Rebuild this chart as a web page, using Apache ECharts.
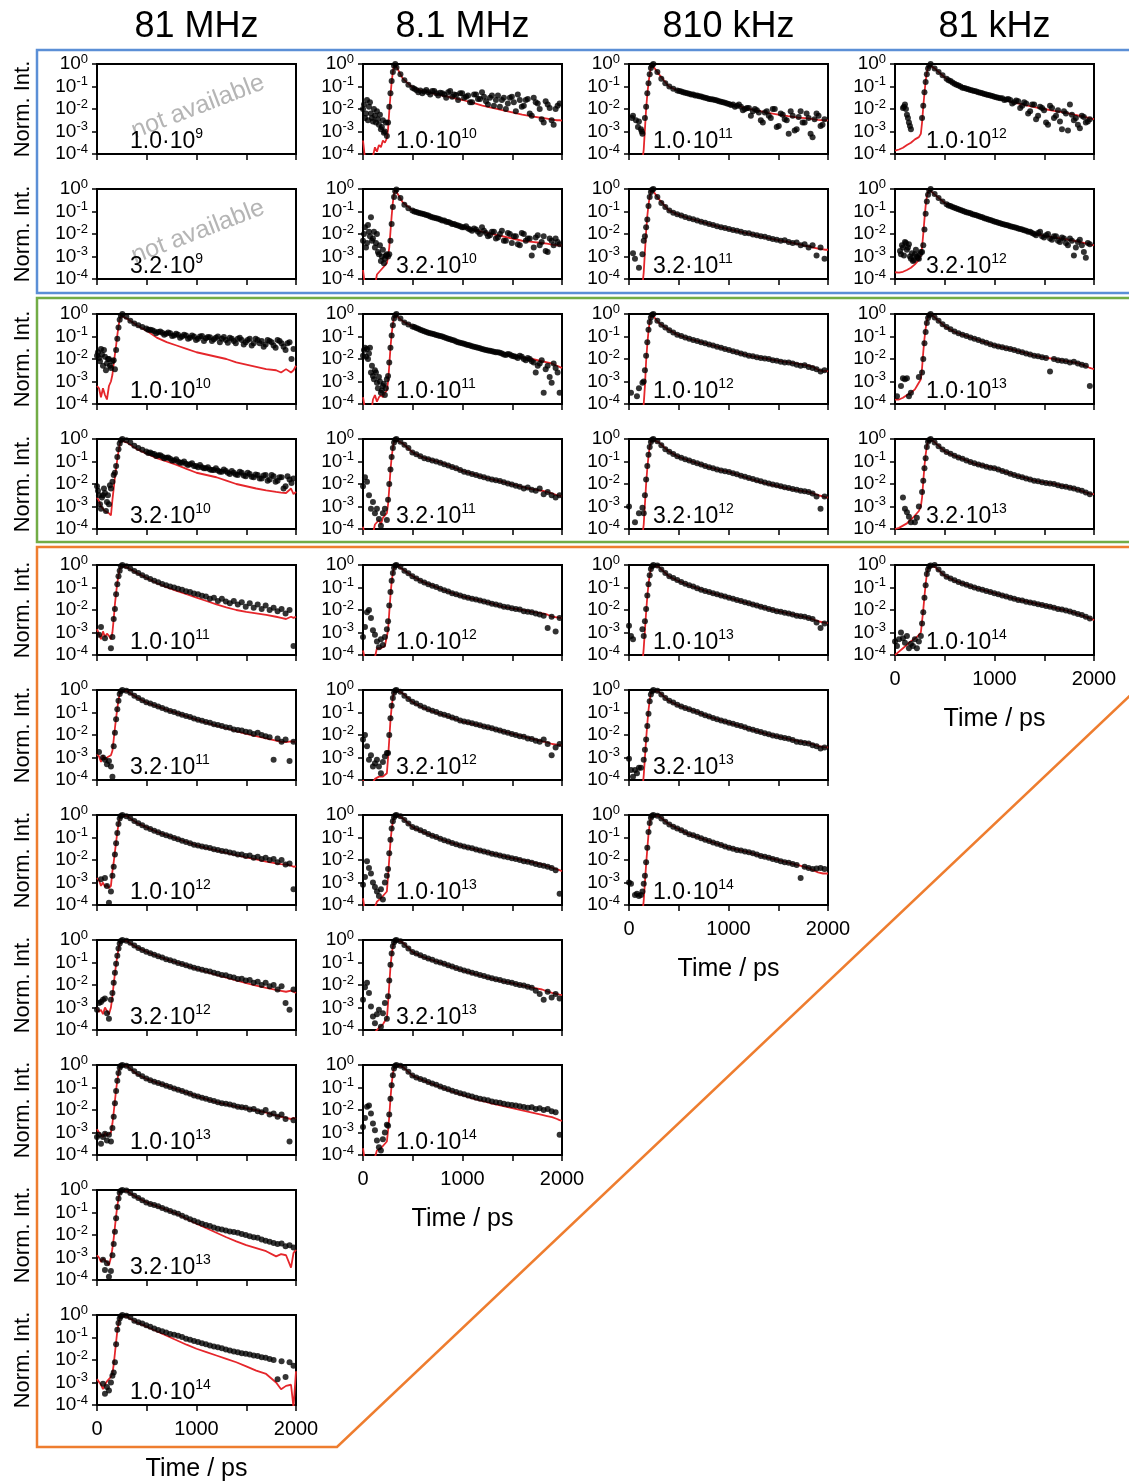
<!DOCTYPE html>
<html><head><meta charset="utf-8">
<script src="https://cdn.jsdelivr.net/npm/echarts/dist/echarts.min.js"></script>
<style>html,body{margin:0;padding:0;background:#fff}#c{width:1129px;height:1484px}</style>
</head><body><div id="c"></div><script>
// ---------- column titles & tick labels ----------
const COLUMN_TITLES = ['81 MHz', '8.1 MHz', '810 kHz', '81 kHz'];
const X_TICK_LABELS = [0, 1000, 2000];

// ---------- time bins (ps) of the measured points, per column ----------
const T_C1 = [0,20,40,60,80,100,120,140, 155,168,180,192,204,216,228,240,
 255,295,335,375,415,455,495,535,575,615, 655,695,735,775,815,855,895,935,975,1015,
 1055,1095,1135,1175,1215,1255,1295,1335,1375,1415, 1455,1495,1535,1575,1615,1655,1695,1735,1775,1815,
 1855,1895,1935,1975];
const T_C2 = [0,20,40,60,80,100,120,140,160,180,200,220,240, 252,264,276,288,300,312,324,
 336,376,416,456,496,536,576,616,656,696, 736,776,816,856,896,936,976,1016,1056,1096,
 1136,1176,1216,1256,1296,1336,1376,1416,1456,1496, 1536,1576,1616,1656,1696,1736,1776,1816,1856,1896,
 1936,1976];
const T_C3 = [0,20,40,60,80,100,120,135, 148,160,172,184,196,208,220,232,
 245,285,325,365,405,445,485,525,565,605, 645,685,725,765,805,845,885,925,965,1005,
 1045,1085,1125,1165,1205,1245,1285,1325,1365,1405, 1445,1485,1525,1565,1605,1645,1685,1725,1765,1805,
 1845,1885,1925,1965];
const T_C4 = [0,20,40,60,80,100,120,140,160,180,200,220,240,260, 272,284,296,308,320,332,344,
 358,398,438,478,518,558,598,638,678,718, 758,798,838,878,918,958,998,1038,1078,1118,
 1158,1198,1238,1278,1318,1358,1398,1438,1478,1518, 1558,1598,1638,1678,1718,1758,1798,1838,1878,1918,
 1958];
// in-between bins (ps), used only by the noisiest panels
const XT_C1 = [10,30,50,70,90,110,130,
 515,555,595,635,675,715,755,795,835,875, 915,955,995,1035,1075,1115,1155,1195,1235,1275,
 1315,1355,1395,1435,1475,1515,1555,1595,1635,1675, 1715,1755,1795,1835,1875,1915,1955];
const XT_C2 = [10,30,50,70,90,110,130,150,170,190,210,230,
 516,556,596,636,676,716,756,796,836,876, 916,956,996,1036,1076,1116,1156,1196,1236,1276,
 1316,1356,1396,1436,1476,1516,1556,1596,1636,1676, 1716,1756,1796,1836,1876,1916,1956];
const XT_C3 = [10,30,50,70,90,110,128,
 505,545,585,625,665,705,745,785,825,865, 905,945,985,1025,1065,1105,1145,1185,1225,1265,
 1305,1345,1385,1425,1465,1505,1545,1585,1625,1665, 1705,1745,1785,1825,1865,1905,1945];
const XT_C4 = [10,30,50,70,90,110,130,150,170,190,210,230,250,
 538,578,618,658,698,738,778,818,858,898, 938,978,1018,1058,1098,1138,1178,1218,1258,1298,
 1338,1378,1418,1458,1498,1538,1578,1618,1658,1698, 1738,1778,1818,1858,1898,1938];
// ---------- time points of the fit curves, per column ----------
const FT_C1 = [0,20,40,60,80,100,120,140, 155,168,180,192,204,216,228,240, 255,
 300,400,500,600,700,800,900,1000,1100,1200,1300,1400,1500,1600,1700,1800, 1850,1900,1950,1975,2000];
const FT_C2 = [0,20,40,60,80,100,120,140,160,180,200,220,240, 252,264,276,288,300,312,324, 336,
 400,500,600,700,800,900,1000,1100,1200,1300,1400,1500,1600,1700,1800, 1850,1900,1950,1975,2000];
const FT_C3 = [0,20,40,60,80,100,120,135, 148,160,172,184,196,208,220,232, 245,
 300,400,500,600,700,800,900,1000,1100,1200,1300,1400,1500,1600,1700,1800, 1850,1900,1950,1975,2000];
const FT_C4 = [0,20,40,60,80,100,120,140,160,180,200,220,240,260, 272,284,296,308,320,332,344, 358,
 400,500,600,700,800,900,1000,1100,1200,1300,1400,1500,1600,1700,1800, 1850,1900,1950,1975,2000];

// ---------- values: log10 of normalised intensity ----------
// column 1 (81 MHz)
const D_R3C1 = [-1.85,-1.95,-1.55,-2.3,-1.9,-2.2,-2.0,-2.4, -2.1,-2.05,-2.45,-1.6,-1.1,-0.6,-0.25,-0.08,
 0,-0.12,-0.3,-0.42,-0.5,-0.58,-0.64,-0.7,-0.77,-0.8, -0.83,-0.88,-0.85,-0.95,-0.92,-1.0,-0.95,-1.05,-1.0,-1.1,
 -0.98,-1.08,-1.03,-1.12,-1.0,-1.1,-1.15,-1.05,-1.2,-1.1, -1.15,-1.25,-1.1,-1.3,-1.15,-1.2,-1.35,-1.2,-1.4,-1.15,
 -1.3,-1.6,-1.25,-1.55];
const X_R3C1 = [-1.7,-2.1,-1.8,-1.6,-2.5,-2.0,-2.3,
 -0.7,-0.72,-0.85,-0.78,-0.92,-0.82,-0.98,-0.88,-1.05,-0.92, -1.1,-0.95,-1.15,-1.0,-1.2,-1.02,-1.2,-1.05,-1.25,-1.02,
 -1.28,-1.1,-1.3,-1.05,-1.35,-1.15,-1.4,-1.1,-1.3,-1.45, -1.15,-1.25,-1.5,-1.2,-1.45,-1.3,-2.0];
const F_R3C1 = [-3.2,-3.3,-3.7,-3.3,-3.6,-3.8,-3.2,-3.0, -2.7,-2.2,-1.8,-1.4,-0.95,-0.55,-0.25,-0.07, 0,
 -0.2,-0.5,-0.75,-1.05,-1.25,-1.4,-1.55,-1.7,-1.8,-1.9,-2.0,-2.15,-2.25,-2.35,-2.45,-2.5, -2.6,-2.45,-2.6,-2.5,-2.3];
const D_R4C1 = [-2.1,-2.5,-3.1,-2.5,-2.4,-2.8,-2.9,-2.2, -1.9,-1.6,-1.5,-1.2,-0.8,-0.45,-0.2,-0.05,
 0,-0.05,-0.15,-0.3,-0.4,-0.48,-0.55,-0.6,-0.67,-0.72, -0.78,-0.83,-0.88,-0.95,-1.0,-1.05,-1.1,-1.12,-1.2,-1.25,
 -1.25,-1.3,-1.35,-1.38,-1.4,-1.45,-1.42,-1.55,-1.5,-1.6, -1.5,-1.65,-1.55,-1.7,-1.6,-1.75,-1.6,-1.8,-1.65,-1.85,
 -1.7,-2.1,-1.8,-1.75];
const X_R4C1 = [-2.3,-2.9,-2.6,-2.2,-3.2,-2.5,-2.05,
 -0.62,-0.66,-0.75,-0.72,-0.85,-0.82,-0.95,-0.9,-1.05,-1.0, -1.15,-1.08,-1.2,-1.15,-1.3,-1.25,-1.38,-1.3,-1.45,-1.35,
 -1.5,-1.42,-1.58,-1.45,-1.62,-1.5,-1.68,-1.58,-1.75,-1.62, -1.85,-1.6,-1.9,-1.7,-2.2,-1.65,-1.95];
const F_R4C1 = [-2.6,-2.75,-3.0,-3.1,-3.2,-3.2,-3.3,-3.4, -2.7,-2.2,-1.7,-1.3,-0.9,-0.55,-0.25,-0.07, 0,
 -0.15,-0.45,-0.65,-0.85,-1.0,-1.15,-1.33,-1.5,-1.6,-1.7,-1.85,-2.0,-2.1,-2.2,-2.28,-2.35, -2.38,-2.4,-2.2,-2.45,-2.35];
const D_R5C1 = [null,-3.1,-2.75,null,-3.25,null,null,-3.7, -3.2,-2.4,-1.95,-1.3,-0.85,-0.5,-0.25,-0.05,
 0,-0.05,-0.15,-0.27,-0.36,-0.45,-0.54,-0.62,-0.7,-0.77, -0.84,-0.9,-0.95,-1.0,-1.06,-1.1,-1.17,-1.2,-1.27,-1.3,
 -1.37,-1.4,-1.5,-1.45,-1.6,-1.5,-1.62,-1.7,-1.6,-1.75, -1.65,-1.85,-1.7,-1.9,-1.75,-1.95,-1.8,-2.0,-1.9,-2.05,
 -1.95,-2.15,-2.0,-3.6];
const F_R5C1 = [-2.85,-2.9,-3.3,-2.95,-3.2,-3.05,-3.15,-3.3, -3.0,-2.4,-1.75,-1.25,-0.8,-0.45,-0.2,-0.05, 0,
 -0.1,-0.35,-0.58,-0.8,-0.98,-1.15,-1.3,-1.45,-1.6,-1.75,-1.88,-2.0,-2.08,-2.15,-2.22,-2.3, -2.35,-2.4,-2.3,-2.35,-2.3];
const D_R6C1 = [null,-2.75,null,-3.0,-3.1,-3.3,-3.15,-3.4, -3.85,-2.5,-1.9,-1.3,-0.85,-0.48,-0.18,-0.05,
 0,-0.03,-0.12,-0.25,-0.36,-0.45,-0.54,-0.6,-0.67,-0.73, -0.8,-0.87,-0.93,-0.98,-1.04,-1.1,-1.15,-1.2,-1.27,-1.32,
 -1.37,-1.42,-1.45,-1.52,-1.55,-1.6,-1.65,-1.68,-1.75,-1.78, -1.8,-1.85,-1.88,-1.95,-1.9,-2.0,-2.05,-2.1,-3.1,-2.15,
 -2.3,-2.2,-3.15,-2.3];
const F_R6C1 = [-2.85,-2.95,-3.2,-2.9,-3.1,-3.0,-3.05,-2.9, -2.7,-2.2,-1.7,-1.25,-0.82,-0.45,-0.18,-0.04, 0,
 -0.05,-0.33,-0.56,-0.72,-0.88,-1.02,-1.17,-1.32,-1.45,-1.58,-1.7,-1.83,-1.95,-2.05,-2.15,-2.25, -2.3,-2.32,-2.28,-2.3,-2.3];
const D_R7C1 = [null,null,-2.85,null,-2.8,-3.15,-3.9,-3.4, -2.7,-2.3,-1.75,-1.25,-0.8,-0.4,-0.15,-0.04,
 0,-0.05,-0.14,-0.27,-0.37,-0.46,-0.55,-0.62,-0.7,-0.77, -0.84,-0.9,-0.96,-1.02,-1.08,-1.14,-1.2,-1.26,-1.32,-1.36,
 -1.4,-1.43,-1.47,-1.52,-1.55,-1.6,-1.62,-1.67,-1.7,-1.75, -1.75,-1.82,-1.8,-1.9,-1.85,-1.95,-1.9,-2.0,-1.95,-2.1,
 -2.0,-2.2,-2.15,-3.3];
const F_R7C1 = [-2.8,-2.9,-3.15,-3.0,-3.2,-3.1,-3.25,-3.15, -2.5,-2.1,-1.65,-1.2,-0.78,-0.4,-0.15,-0.04, 0,
 -0.05,-0.35,-0.55,-0.75,-0.9,-1.05,-1.2,-1.35,-1.47,-1.57,-1.68,-1.78,-1.88,-1.97,-2.07,-2.15, -2.18,-2.2,-2.25,-2.3,-2.28];
const D_R8C1 = [-3.1,-2.8,-2.75,-2.65,-2.6,-3.25,-3.5,-2.65, -2.35,-1.9,-1.45,-1.05,-0.7,-0.38,-0.15,-0.04,
 0,-0.03,-0.12,-0.24,-0.35,-0.44,-0.52,-0.59,-0.66,-0.72, -0.78,-0.85,-0.9,-0.96,-1.02,-1.07,-1.12,-1.18,-1.23,-1.28,
 -1.32,-1.37,-1.4,-1.46,-1.5,-1.55,-1.57,-1.63,-1.67,-1.73, -1.72,-1.8,-1.78,-1.9,-1.85,-2.0,-1.9,-2.05,-2.0,-2.2,
 -2.05,-2.8,-3.1,-2.2];
const F_R8C1 = [-3.0,-3.2,-3.1,-3.3,-3.0,-3.15,-3.3,-3.0, -2.5,-1.95,-1.5,-1.08,-0.72,-0.4,-0.15,-0.04, 0,
 -0.05,-0.33,-0.53,-0.7,-0.86,-1.0,-1.14,-1.28,-1.42,-1.55,-1.67,-1.8,-1.92,-2.03,-2.13,-2.22, -2.26,-2.3,-2.25,-2.3,-2.35];
const D_R9C1 = [-3.2,-3.1,-3.5,-3.2,-3.05,-3.35,-3.1,-3.4, -2.8,-2.3,-1.7,-1.15,-0.7,-0.35,-0.12,-0.03,
 0,-0.03,-0.14,-0.28,-0.4,-0.5,-0.6,-0.68,-0.74,-0.8, -0.86,-0.92,-0.98,-1.04,-1.1,-1.16,-1.22,-1.28,-1.35,-1.4,
 -1.45,-1.5,-1.55,-1.6,-1.65,-1.7,-1.72,-1.76,-1.8,-1.85, -1.88,-1.9,-1.98,-1.95,-2.05,-2.1,-2.0,-2.2,-2.15,-2.3,
 -2.2,-2.4,-3.4,-2.45];
const F_R9C1 = [-2.85,-3.0,-2.95,-3.2,-3.0,-3.15,-3.1,-3.0, -2.6,-2.1,-1.6,-1.1,-0.7,-0.35,-0.12,-0.03, 0,
 -0.05,-0.4,-0.62,-0.78,-0.93,-1.08,-1.23,-1.38,-1.52,-1.65,-1.75,-1.85,-1.93,-2.02,-2.12,-2.25, -2.3,-2.35,-2.4,-2.35,-2.4];
const D_R10C1 = [null,null,null,-3.1,-3.55,-3.25,-3.85,-3.6, -2.9,-2.4,-1.85,-1.25,-0.75,-0.38,-0.12,-0.03,
 0,-0.02,-0.13,-0.25,-0.36,-0.46,-0.55,-0.62,-0.67,-0.72, -0.8,-0.87,-0.93,-1.0,-1.06,-1.14,-1.22,-1.3,-1.37,-1.43,
 -1.5,-1.56,-1.6,-1.67,-1.72,-1.76,-1.8,-1.84,-1.87,-1.9, -1.95,-2.0,-2.05,-2.1,-2.12,-2.2,-2.25,-2.3,-2.35,-2.4,
 -2.38,-2.5,-2.45,-2.55];
const F_R10C1 = [-2.9,-3.0,-3.2,-3.05,-3.1,-3.2,-3.35,-3.0, -2.6,-2.15,-1.65,-1.15,-0.72,-0.37,-0.12,-0.03, 0,
 -0.05,-0.33,-0.55,-0.72,-0.88,-1.05,-1.28,-1.5,-1.7,-1.9,-2.1,-2.28,-2.45,-2.58,-2.72,-2.95, -2.85,-2.9,-3.45,-2.8,-2.65];
const D_R11C1 = [null,null,null,-3.05,-3.5,-3.2,-3.35,-3.0, -2.7,-2.55,-2.1,-1.3,-0.65,-0.35,-0.15,-0.05,
 0,-0.03,-0.1,-0.25,-0.32,-0.38,-0.45,-0.52,-0.6,-0.67, -0.72,-0.78,-0.84,-0.88,-0.92,-0.98,-1.05,-1.1,-1.15,-1.2,
 -1.25,-1.3,-1.35,-1.4,-1.43,-1.48,-1.53,-1.58,-1.62,-1.66, -1.7,-1.72,-1.76,-1.8,-1.82,-1.88,-1.9,-1.95,-2.0,-2.85,
 -2.05,-2.75,-2.1,-2.25];
const F_R11C1 = [-2.85,-2.9,-3.1,-3.3,-3.1,-2.95,-2.85,-2.75, -2.6,-2.2,-1.7,-1.2,-0.72,-0.38,-0.15,-0.04, 0,
 -0.08,-0.33,-0.52,-0.72,-0.92,-1.12,-1.32,-1.5,-1.65,-1.8,-1.95,-2.1,-2.28,-2.47,-2.62,-3.0, -3.3,-3.15,-3.1,-4.1,-2.5];

// column 2 (8.1 MHz)
const D_R1C2 = [-2.0,-2.4,-1.6,-1.9,-2.2,-2.55,-2.3,-2.1,-2.7,-2.9,-2.5,-3.0,-3.2, -2.6,-1.9,-1.3,-0.75,-0.35,-0.08,0,
 -0.15,-0.45,-0.72,-0.92,-1.05,-1.15,-1.18,-1.22,-1.25,-1.2, -1.3,-1.28,-1.35,-1.25,-1.45,-1.38,-1.3,-1.5,-1.4,-1.7,
 -1.35,-1.55,-1.45,-1.8,-1.4,-1.6,-1.9,-1.5,-1.75,-1.45, -2.1,-1.6,-1.85,-1.55,-2.3,-1.7,-2.0,-2.6,-1.8,-2.5,
 -2.0,-1.75];
const X_R1C2 = [-1.8,-2.2,-2.5,-1.7,-2.4,-2.0,-2.6,-2.45,-2.25,-2.8,-3.05,-2.6,
 -1.1,-1.25,-1.3,-1.15,-1.35,-1.2,-1.4,-1.3,-1.5,-1.2, -1.35,-1.6,-1.3,-1.45,-1.7,-1.35,-1.55,-1.25,-1.65,-1.5,
 -1.85,-1.4,-1.6,-2.0,-1.5,-1.7,-1.35,-1.9,-1.6,-2.2, -1.5,-1.75,-2.45,-1.65,-1.95,-2.7,-1.85];
const F_R1C2 = [-3.4,-4.2,-4.5,-4.5,-4.3,-4.1,-3.7,-3.9,-3.6,-3.7,-3.4,-3.5,-3.3, -2.9,-2.1,-1.4,-0.8,-0.35,-0.08,0, -0.12,
 -0.65,-1.05,-1.2,-1.3,-1.4,-1.5,-1.6,-1.72,-1.85,-1.95,-2.05,-2.15,-2.25,-2.33,-2.4, -2.43,-2.47,-2.5,-2.5,-2.52];
const D_R2C2 = [-2.3,-1.7,-2.4,-1.9,-1.25,-2.2,-2.6,-2.0,-2.9,-3.2,-2.7,-3.1,-2.9, -3.0,-2.9,-2.3,-1.55,-0.8,-0.35,-0.1,
 -0.02,-0.4,-0.7,-0.85,-0.95,-1.02,-1.08,-1.12,-1.18,-1.25, -1.3,-1.36,-1.4,-1.47,-1.55,-1.6,-1.65,-1.7,-1.75,-1.85,
 -1.8,-2.0,-1.85,-2.1,-1.9,-2.2,-2.0,-2.3,-1.95,-2.4, -2.1,-2.5,-2.0,-2.2,-2.95,-2.15,-2.5,-2.1,-2.8,-2.3,
 -2.2,-2.45];
const X_R2C2 = [-2.0,-2.6,-1.6,-2.1,-2.3,-1.9,-2.4,-2.8,-2.5,-3.0,-3.3,-2.95,
 -1.0,-1.05,-1.1,-1.15,-1.22,-1.28,-1.32,-1.4,-1.45,-1.5, -1.55,-1.62,-1.7,-1.65,-1.8,-1.75,-1.9,-1.7,-1.95,-2.05,
 -1.9,-2.15,-1.85,-2.3,-2.0,-2.1,-2.45,-1.95,-2.3,-2.2, -2.6,-2.05,-2.35,-2.75,-2.2,-2.5,-2.35];
const F_R2C2 = [-3.6,-4.3,-4.5,-4.5,-4.5,-4.5,-4.3,-3.8,-3.7,-3.6,-3.5,-3.4,-3.3, -3.0,-2.6,-1.9,-1.2,-0.6,-0.2,-0.03, 0,
 -0.6,-0.95,-1.1,-1.25,-1.4,-1.55,-1.7,-1.8,-1.9,-2.0,-2.1,-2.2,-2.3,-2.35,-2.4, -2.43,-2.47,-2.5,-2.5,-2.5];
const D_R3C2 = [-1.85,-1.5,-1.55,-1.75,-2.6,-2.75,-2.5,-3.05,-2.8,-3.5,-3.2,-3.6,-2.9, -2.75,-2.15,-1.5,-0.95,-0.5,-0.2,-0.05,
 0,-0.2,-0.38,-0.47,-0.55,-0.62,-0.7,-0.77,-0.83,-0.88, -0.93,-0.98,-1.03,-1.1,-1.15,-1.22,-1.28,-1.32,-1.38,-1.43,
 -1.48,-1.52,-1.58,-1.62,-1.65,-1.7,-1.72,-1.8,-1.78,-1.85, -1.9,-1.85,-2.0,-1.95,-2.1,-2.6,-2.2,-3.5,-2.3,-3.05,
 -2.4,-3.5];
const X_R3C2 = [-1.6,-1.9,-2.0,-1.5,-2.3,-2.9,-2.6,-3.3,-3.0,-3.4,-3.1,-3.3,
 -0.58,-0.66,-0.73,-0.8,-0.85,-0.9,-0.95,-1.0,-1.07,-1.12, -1.18,-1.25,-1.3,-1.35,-1.4,-1.45,-1.5,-1.55,-1.6,-1.63,
 -1.68,-1.7,-1.75,-1.82,-1.8,-1.88,-1.95,-1.9,-2.05,-2.0, -2.15,-2.3,-2.05,-2.45,-2.8,-2.2,-2.6];
const F_R3C2 = [-3.7,-4.2,-4.5,-4.5,-4.5,-3.8,-3.6,-3.9,-3.7,-3.6,-3.7,-3.5,-3.4, -3.0,-2.3,-1.5,-0.9,-0.45,-0.15,-0.03, 0,
 -0.33,-0.55,-0.75,-0.9,-1.02,-1.17,-1.3,-1.43,-1.55,-1.67,-1.77,-1.85,-1.93,-2.0,-2.1, -2.15,-2.2,-2.3,-2.35,-2.4];
const D_R4C2 = [-2.1,-1.7,-1.9,-2.5,-3.1,-2.8,-3.3,-3.1,-3.55,-3.85,-3.3,-3.1,-3.6, -2.7,-2.0,-1.35,-0.8,-0.4,-0.15,-0.03,
 0,-0.12,-0.25,-0.4,-0.6,-0.68,-0.77,-0.85,-0.9,-0.95, -1.0,-1.06,-1.12,-1.18,-1.24,-1.3,-1.38,-1.45,-1.5,-1.55,
 -1.6,-1.65,-1.7,-1.75,-1.8,-1.83,-1.87,-1.92,-1.98,-2.02, -2.08,-2.12,-2.2,-2.15,-2.25,-2.3,-2.2,-2.45,-2.35,-2.5,
 -2.6,-2.5];
const F_R4C2 = [-3.9,-4.3,-4.5,-4.5,-4.5,-4.2,-3.8,-3.7,-3.6,-3.8,-3.5,-3.4,-3.3, -2.9,-2.2,-1.4,-0.8,-0.4,-0.12,-0.02, 0,
 -0.2,-0.6,-0.82,-0.95,-1.07,-1.25,-1.42,-1.55,-1.68,-1.8,-1.9,-2.02,-2.13,-2.23,-2.3, -2.35,-2.42,-2.5,-2.52,-2.55];
const D_R5C2 = [-3.2,-2.75,-2.1,-2.0,-2.35,-2.9,-3.1,-3.4,-3.65,-3.3,-3.55,-3.2,-2.85, -2.5,-1.8,-1.2,-0.7,-0.35,-0.12,-0.02,
 0,-0.08,-0.25,-0.37,-0.5,-0.6,-0.7,-0.78,-0.85,-0.92, -0.98,-1.05,-1.12,-1.18,-1.25,-1.3,-1.36,-1.41,-1.45,-1.5,
 -1.53,-1.58,-1.62,-1.67,-1.72,-1.76,-1.8,-1.85,-1.88,-1.92, -1.95,-1.98,-2.05,-2.08,-2.1,-2.15,-2.2,-2.25,-2.8,-2.3,
 -2.95,-2.35];
const F_R5C2 = [-3.8,-4.2,-4.5,-4.5,-4.5,-4.3,-4.1,-3.7,-3.75,-3.7,-3.65,-3.6,-3.6, -2.9,-2.1,-1.35,-0.75,-0.35,-0.1,-0.02, 0,
 -0.2,-0.5,-0.75,-0.92,-1.1,-1.25,-1.4,-1.5,-1.6,-1.72,-1.85,-1.93,-2.0,-2.08,-2.15, -2.2,-2.3,-2.33,-2.35,-2.35];
const D_R6C2 = [-2.2,-2.0,-2.5,-3.1,-2.9,-3.4,-3.25,-3.1,-3.4,-3.7,-3.2,-2.95,-2.8, -2.8,-2.0,-1.25,-0.7,-0.35,-0.12,-0.02,
 0,-0.08,-0.25,-0.4,-0.52,-0.6,-0.7,-0.78,-0.85,-0.92, -0.98,-1.05,-1.1,-1.16,-1.22,-1.28,-1.35,-1.4,-1.43,-1.48,
 -1.52,-1.57,-1.62,-1.66,-1.7,-1.75,-1.8,-1.85,-1.9,-1.95, -2.0,-2.05,-2.08,-2.15,-2.18,-2.25,-2.3,-2.2,-2.4,-2.9,
 -2.55,-2.4];
const F_R6C2 = [-4.0,-4.2,-4.5,-4.5,-4.3,-4.1,-3.95,-3.9,-3.85,-3.9,-3.85,-3.8,-3.7, -3.0,-2.2,-1.35,-0.75,-0.35,-0.1,-0.02, 0,
 -0.15,-0.55,-0.78,-0.95,-1.1,-1.25,-1.4,-1.5,-1.6,-1.72,-1.83,-1.95,-2.05,-2.17,-2.28, -2.33,-2.4,-2.43,-2.45,-2.45];
const D_R7C2 = [-3.1,-2.75,-2.05,-2.35,-2.6,-3.0,-3.2,-3.4,-3.6,-3.3,-3.75,-3.0,-2.7, -2.4,-1.7,-1.1,-0.6,-0.28,-0.1,-0.02,
 0,-0.05,-0.22,-0.38,-0.53,-0.6,-0.68,-0.76,-0.84,-0.92, -0.98,-1.05,-1.12,-1.18,-1.24,-1.3,-1.35,-1.4,-1.44,-1.48,
 -1.53,-1.58,-1.62,-1.67,-1.72,-1.76,-1.8,-1.84,-1.88,-1.92, -1.96,-2.0,-2.05,-2.08,-2.12,-2.18,-2.22,-2.25,-2.3,-2.35,
 -2.45,-3.5];
const F_R7C2 = [-3.7,-4.3,-4.5,-4.5,-4.5,-4.3,-4.1,-3.85,-3.8,-3.7,-3.6,-3.5,-3.4, -2.7,-1.95,-1.2,-0.65,-0.3,-0.1,-0.02, 0,
 -0.15,-0.55,-0.75,-0.93,-1.1,-1.25,-1.38,-1.5,-1.6,-1.72,-1.82,-1.92,-2.0,-2.1,-2.2, -2.27,-2.35,-2.42,-2.45,-2.5];
const D_R8C2 = [-2.65,-2.1,-1.9,-2.35,-2.95,-3.4,-3.7,-3.3,-3.1,-3.85,-3.25,-2.8,-3.5, -2.5,-1.8,-1.1,-0.6,-0.28,-0.1,-0.02,
 0,-0.05,-0.22,-0.38,-0.53,-0.6,-0.68,-0.75,-0.82,-0.88, -0.95,-1.0,-1.06,-1.12,-1.18,-1.24,-1.3,-1.36,-1.4,-1.45,
 -1.5,-1.56,-1.6,-1.65,-1.7,-1.74,-1.78,-1.83,-1.87,-1.9, -1.95,-2.0,-2.02,-2.08,-2.12,-2.25,-2.4,-2.65,-2.3,-2.55,
 -2.4,-2.6];
const F_R8C2 = [-4.2,-4.5,-4.5,-4.5,-4.5,-4.3,-4.1,-4.0,-3.9,-3.85,-3.75,-3.6,-3.5, -2.8,-2.0,-1.2,-0.65,-0.3,-0.1,-0.02, 0,
 -0.12,-0.55,-0.75,-0.9,-1.05,-1.2,-1.35,-1.48,-1.6,-1.72,-1.83,-1.92,-2.02,-2.12,-2.2, -2.28,-2.35,-2.4,-2.43,-2.45];
const D_R9C2 = [-2.75,-2.35,-1.85,-1.8,-2.15,-2.6,-2.9,-3.35,-3.65,-3.8,-3.3,-3.0,-2.65, -2.7,-2.2,-1.5,-0.9,-0.45,-0.15,-0.03,
 0,-0.03,-0.12,-0.3,-0.47,-0.55,-0.62,-0.68,-0.75,-0.82, -0.88,-0.95,-1.02,-1.08,-1.14,-1.2,-1.26,-1.3,-1.36,-1.4,
 -1.45,-1.5,-1.53,-1.57,-1.62,-1.65,-1.68,-1.72,-1.75,-1.78, -1.8,-1.83,-1.87,-1.9,-1.88,-1.95,-1.92,-2.0,-1.95,-2.05,
 -2.1,-3.1];
const F_R9C2 = [-3.7,-4.3,-4.5,-4.5,-4.5,-4.3,-4.1,-3.8,-3.75,-3.7,-3.6,-3.5,-3.4, -2.9,-2.3,-1.5,-0.85,-0.4,-0.12,-0.02, 0,
 -0.08,-0.48,-0.67,-0.85,-1.02,-1.18,-1.33,-1.48,-1.6,-1.72,-1.82,-1.92,-2.02,-2.12,-2.22, -2.27,-2.32,-2.4,-2.45,-2.48];

// column 3 (810 kHz)
const D_R1C3 = [null,null,-2.3,null,null,-2.55,-2.9,-3.1, null,-2.4,-1.9,-1.3,-0.85,-0.45,-0.18,-0.05,
 0,-0.35,-0.65,-0.85,-1.0,-1.1,-1.18,-1.22,-1.28,-1.32, -1.36,-1.4,-1.44,-1.5,-1.55,-1.58,-1.62,-1.68,-1.72,-1.78,
 -1.8,-1.85,-1.9,-2.0,-1.95,-2.1,-2.05,-2.5,-2.15,-2.3, -2.0,-2.8,-2.2,-2.45,-3.1,-2.3,-2.9,-2.1,-2.6,-2.4,
 -3.25,-2.2,-2.75,-2.45];
const X_R1C3 = [null,-2.4,null,-2.5,-2.8,null,-3.0,
 -1.2,-1.25,-1.3,-1.35,-1.4,-1.43,-1.48,-1.52,-1.57,-1.6, -1.65,-1.7,-1.75,-1.82,-1.9,-1.8,-2.05,-1.95,-2.3,-2.0,
 -2.15,-2.6,-2.1,-2.4,-2.0,-2.75,-2.25,-2.5,-2.1,-2.95, -2.35,-2.6,-2.2,-3.1,-2.45,-2.3,-2.7];
const F_R1C3 = [-4.5,-4.5,-4.5,-4.5,-4.5,-4.5,-4.5,-4.3, -3.8,-2.9,-2.0,-1.35,-0.85,-0.45,-0.15,-0.03, 0,
 -0.45,-1.0,-1.2,-1.32,-1.42,-1.52,-1.63,-1.75,-1.87,-1.98,-2.08,-2.17,-2.25,-2.32,-2.38,-2.42, -2.45,-2.48,-2.5,-2.5,-2.5];
const D_R2C3 = [null,null,-2.85,-3.1,null,-3.5,null,-2.9, -2.3,-2.1,-1.7,-1.35,-0.75,-0.35,-0.13,-0.03,
 0,-0.35,-0.62,-0.8,-0.95,-1.05,-1.12,-1.18,-1.24,-1.3, -1.34,-1.4,-1.45,-1.5,-1.55,-1.6,-1.65,-1.7,-1.73,-1.78,
 -1.82,-1.86,-1.9,-1.95,-1.97,-2.02,-2.05,-2.1,-2.12,-2.18, -2.22,-2.25,-2.3,-2.28,-2.35,-2.4,-2.38,-2.5,-2.45,-2.6,
 -2.5,-2.95,-2.6,-3.1];
const F_R2C3 = [-4.5,-4.5,-4.5,-4.5,-4.5,-4.5,-4.5,-4.3, -3.7,-2.8,-1.9,-1.2,-0.7,-0.35,-0.12,-0.02, 0,
 -0.45,-0.95,-1.15,-1.3,-1.42,-1.55,-1.67,-1.78,-1.88,-1.98,-2.08,-2.18,-2.27,-2.35,-2.45,-2.55, -2.6,-2.65,-2.68,-2.7,-2.7];
const D_R3C3 = [null,-3.5,null,null,-3.65,-3.3,null,-3.05, -3.0,-2.5,-1.85,-1.25,-0.7,-0.35,-0.15,-0.03,
 0,-0.3,-0.48,-0.6,-0.72,-0.82,-0.92,-0.98,-1.04,-1.1, -1.16,-1.2,-1.25,-1.3,-1.35,-1.4,-1.45,-1.5,-1.55,-1.6,
 -1.65,-1.7,-1.75,-1.8,-1.85,-1.88,-1.92,-1.95,-1.98,-2.0, -2.05,-2.08,-2.12,-2.15,-2.15,-2.2,-2.25,-2.3,-2.28,-2.35,
 -2.4,-2.45,-2.55,-2.5];
const F_R3C3 = [-4.5,-4.5,-4.5,-4.5,-4.5,-4.5,-4.5,-4.4, -4.0,-3.2,-2.1,-1.35,-0.75,-0.35,-0.12,-0.02, 0,
 -0.4,-0.7,-0.95,-1.1,-1.22,-1.35,-1.47,-1.6,-1.72,-1.85,-1.93,-2.0,-2.08,-2.15,-2.22,-2.3, -2.35,-2.48,-2.55,-2.52,-2.55];
const D_R4C3 = [-3.0,null,null,-3.7,null,-3.3,null,-3.05, -3.3,-2.5,-1.8,-1.2,-0.7,-0.35,-0.13,-0.03,
 0,-0.1,-0.28,-0.45,-0.57,-0.67,-0.77,-0.83,-0.9,-0.96, -1.02,-1.08,-1.13,-1.2,-1.25,-1.3,-1.35,-1.4,-1.43,-1.47,
 -1.52,-1.57,-1.63,-1.68,-1.73,-1.78,-1.83,-1.88,-1.93,-1.98, -2.02,-2.06,-2.1,-2.14,-2.18,-2.22,-2.26,-2.3,-2.32,-2.35,
 -2.42,-2.55,-3.1,-2.55];
const F_R4C3 = [-4.5,-4.5,-4.5,-4.5,-4.5,-4.5,-4.5,-4.3, -3.8,-2.9,-2.0,-1.3,-0.75,-0.35,-0.12,-0.02, 0,
 -0.15,-0.55,-0.8,-0.95,-1.1,-1.25,-1.37,-1.45,-1.6,-1.75,-1.88,-2.0,-2.1,-2.2,-2.28,-2.35, -2.42,-2.5,-2.55,-2.58,-2.6];
const D_R5C3 = [-2.7,-3.15,-3.3,null,null,null,null,-2.85, -3.15,-2.5,-1.95,-1.35,-0.85,-0.45,-0.18,-0.05,
 0,-0.02,-0.2,-0.35,-0.5,-0.58,-0.67,-0.75,-0.83,-0.9, -0.96,-1.03,-1.1,-1.15,-1.2,-1.25,-1.3,-1.35,-1.4,-1.45,
 -1.5,-1.55,-1.6,-1.65,-1.7,-1.75,-1.8,-1.85,-1.9,-1.95, -2.0,-2.05,-2.08,-2.12,-2.15,-2.2,-2.25,-2.28,-2.3,-2.35,
 -2.4,-2.55,-2.8,-2.6];
const F_R5C3 = [-4.5,-4.5,-4.5,-4.5,-4.5,-4.5,-4.5,-4.4, -3.7,-2.9,-2.1,-1.4,-0.85,-0.45,-0.17,-0.04, 0,
 -0.08,-0.5,-0.72,-0.9,-1.05,-1.2,-1.33,-1.45,-1.58,-1.7,-1.82,-1.95,-2.05,-2.15,-2.25,-2.35, -2.42,-2.5,-2.55,-2.57,-2.58];
const D_R6C3 = [-3.05,-3.55,-3.85,-3.55,-3.7,-3.45,-3.45,null, -3.1,-2.65,-2.2,-1.6,-1.05,-0.5,-0.2,-0.05,
 0,-0.03,-0.2,-0.35,-0.48,-0.56,-0.65,-0.73,-0.8,-0.86, -0.92,-0.98,-1.05,-1.12,-1.18,-1.24,-1.3,-1.35,-1.4,-1.45,
 -1.5,-1.56,-1.6,-1.66,-1.72,-1.77,-1.82,-1.87,-1.92,-1.97, -2.02,-2.06,-2.1,-2.13,-2.17,-2.22,-2.3,-2.32,-2.35,-2.38,
 -2.45,-2.5,-2.6,-2.55];
const F_R6C3 = [-4.5,-4.5,-4.5,-4.5,-4.5,-4.5,-4.5,-4.4, -3.8,-3.0,-2.2,-1.5,-0.9,-0.45,-0.15,-0.03, 0,
 -0.08,-0.48,-0.7,-0.85,-1.0,-1.18,-1.32,-1.45,-1.58,-1.72,-1.85,-1.97,-2.07,-2.17,-2.27,-2.35, -2.42,-2.5,-2.53,-2.55,-2.55];
const D_R7C3 = [-3.0,-3.05,null,-3.55,-3.5,-3.6,-3.55,-3.4, -3.05,-2.7,-2.1,-1.45,-0.75,-0.35,-0.12,-0.03,
 0,-0.03,-0.15,-0.3,-0.42,-0.52,-0.6,-0.68,-0.77,-0.85, -0.9,-0.97,-1.03,-1.1,-1.15,-1.22,-1.28,-1.33,-1.4,-1.45,
 -1.5,-1.55,-1.58,-1.62,-1.66,-1.7,-1.76,-1.82,-1.86,-1.9, -1.96,-2.0,-2.05,-2.1,-2.12,-2.18,-2.22,-2.8,-2.3,-2.35,
 -2.4,-2.38,-2.35,-2.4];
const F_R7C3 = [-4.5,-4.5,-4.5,-4.5,-4.5,-4.5,-4.5,-4.4, -3.8,-3.0,-2.2,-1.5,-0.85,-0.4,-0.13,-0.03, 0,
 -0.05,-0.4,-0.63,-0.85,-1.0,-1.15,-1.3,-1.45,-1.55,-1.65,-1.78,-1.9,-2.0,-2.12,-2.23,-2.35, -2.45,-2.55,-2.6,-2.6,-2.6];

// column 4 (81 kHz)
const D_R1C4 = [null,null,null,null,-1.95,-1.8,-2.25,-2.6,-2.9,null,null,null,null,null, -2.4,-1.85,-1.25,-0.8,-0.45,-0.2,-0.08,
 0,-0.2,-0.35,-0.5,-0.65,-0.75,-0.88,-0.95,-1.05,-1.1, -1.15,-1.2,-1.25,-1.3,-1.35,-1.4,-1.45,-1.5,-1.52,-1.58,
 -1.6,-1.7,-1.65,-1.85,-1.75,-2.1,-1.8,-2.3,-1.95,-2.6, -1.85,-2.4,-2.05,-2.9,-2.2,-1.8,-2.5,-2.7,-2.3,-2.6,
 -2.45];
const X_R1C4 = [null,null,null,null,-1.9,-2.0,-2.4,-2.75,null,null,null,null,null,
 -0.72,-0.82,-0.92,-1.0,-1.07,-1.12,-1.18,-1.22,-1.28,-1.33, -1.38,-1.42,-1.48,-1.52,-1.6,-1.55,-1.75,-1.62,-1.95,-1.7,
 -2.2,-1.8,-2.45,-1.9,-2.05,-2.7,-1.95,-2.3,-2.55,-2.1, -2.95,-2.25,-2.4,-2.85,-2.35,-2.55];
const F_R1C4 = [-3.85,-3.85,-3.8,-3.78,-3.72,-3.65,-3.6,-3.55,-3.5,-3.45,-3.35,-3.3,-3.25,-3.1, -2.6,-1.9,-1.3,-0.75,-0.4,-0.15,-0.04, 0,
 -0.2,-0.6,-0.88,-1.08,-1.25,-1.38,-1.48,-1.6,-1.72,-1.82,-1.92,-2.0,-2.08,-2.15,-2.25, -2.3,-2.35,-2.4,-2.43,-2.45];
const D_R2C4 = [null,null,null,-2.9,-2.6,-2.35,-2.7,-2.45,-3.1,-3.2,-2.9,-3.0,-3.1,-2.8, -2.8,-2.5,-1.8,-1.1,-0.55,-0.25,-0.08,
 0,-0.22,-0.4,-0.55,-0.68,-0.76,-0.83,-0.9,-0.97,-1.03, -1.08,-1.14,-1.2,-1.26,-1.32,-1.38,-1.44,-1.5,-1.55,-1.6,
 -1.65,-1.7,-1.75,-1.8,-1.85,-1.9,-2.0,-1.95,-2.1,-2.05, -2.2,-2.1,-2.3,-2.15,-2.4,-2.2,-2.95,-2.35,-2.5,-3.05,
 -2.45];
const X_R2C4 = [null,null,-2.75,-2.5,-2.95,-2.4,-2.6,-3.0,-2.85,-3.15,-2.7,-3.05,-2.9,
 -0.73,-0.8,-0.87,-0.93,-1.0,-1.05,-1.12,-1.17,-1.23,-1.3, -1.35,-1.41,-1.47,-1.52,-1.58,-1.62,-1.68,-1.72,-1.78,-1.83,
 -1.9,-1.95,-2.05,-1.9,-2.15,-2.0,-2.25,-2.1,-2.35,-2.2, -2.5,-2.3,-2.6,-2.25,-2.8,-2.4];
const F_R2C4 = [-3.7,-3.7,-3.72,-3.7,-3.68,-3.65,-3.6,-3.55,-3.5,-3.45,-3.35,-3.25,-3.15,-2.95, -2.6,-2.0,-1.35,-0.75,-0.35,-0.12,-0.03, 0,
 -0.25,-0.62,-0.85,-1.0,-1.15,-1.3,-1.45,-1.58,-1.7,-1.85,-2.0,-2.08,-2.15,-2.22,-2.3, -2.35,-2.4,-2.45,-2.48,-2.5];
const D_R3C4 = [null,-3.65,null,-3.2,-2.85,-2.9,-2.85,-3.65,-3.5,null,null,null,-2.8,null, -2.6,-2.0,-1.3,-0.8,-0.4,-0.18,-0.06,
 0,-0.15,-0.3,-0.45,-0.58,-0.68,-0.78,-0.85,-0.92,-0.98, -1.04,-1.1,-1.16,-1.22,-1.28,-1.34,-1.4,-1.44,-1.48,-1.52,
 -1.56,-1.6,-1.65,-1.7,-1.75,-1.8,-1.85,-1.88,-1.92,-1.95, -2.55,-2.0,-2.05,-2.08,-2.1,-2.15,-2.12,-2.2,-2.25,-2.3,
 -3.2];
const F_R3C4 = [-3.8,-3.8,-3.8,-3.78,-3.72,-3.65,-3.6,-3.55,-3.5,-3.45,-3.35,-3.2,-3.15,-2.9, -2.4,-1.7,-1.1,-0.65,-0.3,-0.1,-0.02, 0,
 -0.15,-0.55,-0.8,-0.95,-1.1,-1.25,-1.4,-1.5,-1.6,-1.72,-1.85,-1.93,-2.0,-2.08,-2.15, -2.2,-2.28,-2.38,-2.42,-2.45];
const D_R4C4 = [null,null,null,null,-2.6,-3.1,-3.25,-3.45,-3.7,null,-3.7,-3.5,-3.0,null, -2.35,-1.85,-1.3,-0.85,-0.35,-0.12,-0.04,
 0,-0.15,-0.32,-0.47,-0.58,-0.66,-0.74,-0.82,-0.88,-0.95, -1.02,-1.08,-1.13,-1.18,-1.23,-1.28,-1.3,-1.36,-1.42,-1.48,
 -1.54,-1.6,-1.65,-1.7,-1.75,-1.8,-1.85,-1.88,-1.92,-1.95, -1.98,-2.0,-2.05,-2.1,-2.12,-2.17,-2.2,-2.25,-2.3,-2.38,
 -2.45];
const F_R4C4 = [-4.0,-3.98,-3.95,-3.9,-3.85,-3.8,-3.75,-3.65,-3.6,-3.5,-3.4,-3.3,-3.2,-3.0, -2.6,-1.9,-1.2,-0.7,-0.33,-0.1,-0.02, 0,
 -0.15,-0.55,-0.75,-0.92,-1.1,-1.2,-1.3,-1.45,-1.6,-1.72,-1.85,-1.93,-2.0,-2.1,-2.2, -2.27,-2.35,-2.42,-2.45,-2.45];
const D_R5C4 = [-3.4,-3.6,-3.3,-3.0,-3.25,-3.45,-3.15,-3.7,-3.5,-3.6,-3.3,-3.7,-3.4,-3.15, -2.6,-2.1,-1.45,-0.9,-0.4,-0.2,-0.06,
 -0.02,0,-0.2,-0.38,-0.52,-0.6,-0.68,-0.75,-0.82,-0.88, -0.94,-1.0,-1.05,-1.1,-1.15,-1.2,-1.25,-1.3,-1.35,-1.4,
 -1.45,-1.5,-1.55,-1.58,-1.63,-1.67,-1.7,-1.74,-1.78,-1.82, -1.86,-1.9,-1.95,-1.98,-2.02,-2.07,-2.12,-2.18,-2.22,-2.3,
 -2.38];
const F_R5C4 = [-4.0,-3.95,-3.85,-3.78,-3.7,-3.65,-3.55,-3.45,-3.4,-3.33,-3.3,-3.2,-3.15,-3.0, -2.5,-2.0,-1.4,-0.85,-0.4,-0.15,-0.05, 0,
 -0.08,-0.48,-0.7,-0.85,-1.0,-1.13,-1.25,-1.38,-1.5,-1.6,-1.7,-1.8,-1.9,-2.0,-2.12, -2.2,-2.28,-2.35,-2.4,-2.45];

// ---------- panels: row, column, excitation label ----------
const PANELS = [
 {row:0,col:0,mant:'1.0',exp:9,dots:null,fit:null},
 {row:1,col:0,mant:'3.2',exp:9,dots:null,fit:null},
 {row:2,col:0,mant:'1.0',exp:10,dots:D_R3C1,fit:F_R3C1,extra:X_R3C1},
 {row:3,col:0,mant:'3.2',exp:10,dots:D_R4C1,fit:F_R4C1,extra:X_R4C1},
 {row:4,col:0,mant:'1.0',exp:11,dots:D_R5C1,fit:F_R5C1},
 {row:5,col:0,mant:'3.2',exp:11,dots:D_R6C1,fit:F_R6C1},
 {row:6,col:0,mant:'1.0',exp:12,dots:D_R7C1,fit:F_R7C1},
 {row:7,col:0,mant:'3.2',exp:12,dots:D_R8C1,fit:F_R8C1},
 {row:8,col:0,mant:'1.0',exp:13,dots:D_R9C1,fit:F_R9C1},
 {row:9,col:0,mant:'3.2',exp:13,dots:D_R10C1,fit:F_R10C1},
 {row:10,col:0,mant:'1.0',exp:14,dots:D_R11C1,fit:F_R11C1},
 {row:0,col:1,mant:'1.0',exp:10,dots:D_R1C2,fit:F_R1C2,extra:X_R1C2},
 {row:1,col:1,mant:'3.2',exp:10,dots:D_R2C2,fit:F_R2C2,extra:X_R2C2},
 {row:2,col:1,mant:'1.0',exp:11,dots:D_R3C2,fit:F_R3C2,extra:X_R3C2},
 {row:3,col:1,mant:'3.2',exp:11,dots:D_R4C2,fit:F_R4C2},
 {row:4,col:1,mant:'1.0',exp:12,dots:D_R5C2,fit:F_R5C2},
 {row:5,col:1,mant:'3.2',exp:12,dots:D_R6C2,fit:F_R6C2},
 {row:6,col:1,mant:'1.0',exp:13,dots:D_R7C2,fit:F_R7C2},
 {row:7,col:1,mant:'3.2',exp:13,dots:D_R8C2,fit:F_R8C2},
 {row:8,col:1,mant:'1.0',exp:14,dots:D_R9C2,fit:F_R9C2},
 {row:0,col:2,mant:'1.0',exp:11,dots:D_R1C3,fit:F_R1C3,extra:X_R1C3},
 {row:1,col:2,mant:'3.2',exp:11,dots:D_R2C3,fit:F_R2C3},
 {row:2,col:2,mant:'1.0',exp:12,dots:D_R3C3,fit:F_R3C3},
 {row:3,col:2,mant:'3.2',exp:12,dots:D_R4C3,fit:F_R4C3},
 {row:4,col:2,mant:'1.0',exp:13,dots:D_R5C3,fit:F_R5C3},
 {row:5,col:2,mant:'3.2',exp:13,dots:D_R6C3,fit:F_R6C3},
 {row:6,col:2,mant:'1.0',exp:14,dots:D_R7C3,fit:F_R7C3},
 {row:0,col:3,mant:'1.0',exp:12,dots:D_R1C4,fit:F_R1C4,extra:X_R1C4},
 {row:1,col:3,mant:'3.2',exp:12,dots:D_R2C4,fit:F_R2C4,extra:X_R2C4},
 {row:2,col:3,mant:'1.0',exp:13,dots:D_R3C4,fit:F_R3C4},
 {row:3,col:3,mant:'3.2',exp:13,dots:D_R4C4,fit:F_R4C4},
 {row:4,col:3,mant:'1.0',exp:14,dots:D_R5C4,fit:F_R5C4}
];

// ---------- layout / style ----------
const FONT = "'Liberation Sans', Arial, Helvetica, sans-serif";
const RED = '#e5262b';
const COL_X = [97, 363, 629, 895];
const ROW_Y = [64, 189, 314, 439, 565, 690, 815, 940, 1065, 1190, 1315];
const PW = 199, PH = 90;
const LABEL_X = [130, 396, 653, 926];
const LAST_ROW = [10, 8, 6, 4];
const DOT_T = [T_C1, T_C2, T_C3, T_C4];
const EXTRA_T = [XT_C1, XT_C2, XT_C3, XT_C4];
const FIT_T = [FT_C1, FT_C2, FT_C3, FT_C4];

const grid = [], xAxis = [], yAxis = [], series = [], graphic = [];
const problems = [];

function pairs(ts, vs) {
  const out = [];
  const n = Math.min(ts.length, vs.length);
  for (let i = 0; i < n; i++) if (vs[i] !== null && vs[i] !== undefined) out.push([ts[i], Math.pow(10, vs[i])]);
  return out;
}
function tag(p) { return 'r' + (p.row + 1) + 'c' + (p.col + 1); }

PANELS.forEach((p, i) => {
  const last = p.row === LAST_ROW[p.col];
  grid.push({left: COL_X[p.col], top: ROW_Y[p.row], width: PW, height: PH,
    show: true, borderColor: '#000', borderWidth: 2, backgroundColor: 'transparent'});
  xAxis.push({gridIndex: i, type: 'value', min: 0, max: 2000, interval: 500,
    splitLine: {show: false},
    axisLine: {show: true, onZero: false, lineStyle: {color: '#000', width: 2}},
    axisTick: {show: true, inside: false, length: 6, lineStyle: {color: '#000', width: 1.5}},
    axisLabel: {show: last, margin: 14, color: '#000', fontSize: 20, fontFamily: FONT,
      formatter: v => (X_TICK_LABELS.indexOf(v) >= 0 ? String(v) : '')},
    name: last ? 'Time / ps' : '', nameLocation: 'middle', nameGap: 52,
    nameTextStyle: {fontSize: 25, color: '#000', fontFamily: FONT}});
  yAxis.push({gridIndex: i, type: 'log', logBase: 10, min: 1e-4, max: 1, splitNumber: 4,
    splitLine: {show: false},
    axisLine: {show: true, lineStyle: {color: '#000', width: 2}},
    axisTick: {show: true, inside: false, length: 5, lineStyle: {color: '#000', width: 1.5}},
    axisLabel: {show: true, margin: 9,
      formatter: v => '{b|10}{s|' + Math.round(Math.log10(v)) + '}',
      rich: {b: {fontSize: 19, fontFamily: FONT, color: '#000', lineHeight: 23},
             s: {fontSize: 13, fontFamily: FONT, color: '#000', lineHeight: 12, verticalAlign: 'top'}}}});
  if (p.dots) {
    if (p.dots.length !== DOT_T[p.col].length) problems.push('dots ' + tag(p) + ':' + p.dots.length + '/' + DOT_T[p.col].length);
    if (p.fit.length !== FIT_T[p.col].length) problems.push('fit ' + tag(p) + ':' + p.fit.length + '/' + FIT_T[p.col].length);
    if (p.extra && p.extra.length !== EXTRA_T[p.col].length) problems.push('extra ' + tag(p) + ':' + p.extra.length + '/' + EXTRA_T[p.col].length);
    series.push({type: 'line', xAxisIndex: i, yAxisIndex: i, data: pairs(FIT_T[p.col], p.fit),
      showSymbol: false, symbol: 'none', clip: true, silent: true, z: 2,
      lineStyle: {color: RED, width: 1.8}});
    let pts = pairs(DOT_T[p.col], p.dots);
    if (p.extra) pts = pts.concat(pairs(EXTRA_T[p.col], p.extra));
    series.push({type: 'scatter', xAxisIndex: i, yAxisIndex: i, data: pts,
      symbol: 'circle', symbolSize: 6, clip: false, silent: true, z: 3,
      itemStyle: {color: '#000'}});
  } else {
    graphic.push({type: 'text', x: COL_X[p.col] + 101, y: ROW_Y[p.row] + 43, rotation: 21 * Math.PI / 180, z: 90,
      style: {text: 'not available', fontSize: 25, fontFamily: FONT, fill: '#b5b5b5', align: 'center', verticalAlign: 'middle'}});
  }
  graphic.push({type: 'text', x: LABEL_X[p.col], y: ROW_Y[p.row] + PH - 12, z: 100,
    style: {text: '{m|' + p.mant + '·10}{e|' + p.exp + '}', align: 'left', verticalAlign: 'middle',
      rich: {m: {fontSize: 23, fontFamily: FONT, fill: '#000', color: '#000', lineHeight: 30},
             e: {fontSize: 14, fontFamily: FONT, fill: '#000', color: '#000', lineHeight: 14, verticalAlign: 'top'}}}});
  if (p.col === 0) {
    graphic.push({type: 'text', x: 23, y: ROW_Y[p.row] + PH / 2, rotation: Math.PI / 2, z: 100,
      style: {text: 'Norm. Int.', fontSize: 22, fontFamily: FONT, fill: '#000', align: 'center', verticalAlign: 'middle'}});
  }
});

COLUMN_TITLES.forEach((t, c) => {
  graphic.push({type: 'text', x: COL_X[c] + PW / 2, y: 27, z: 100,
    style: {text: t, fontSize: 36, fontFamily: FONT, fill: '#000', align: 'center', verticalAlign: 'middle'}});
});

// group frames
graphic.push({type: 'rect', shape: {x: 37, y: 50, width: 1110, height: 243}, z: 1,
  style: {fill: 'none', stroke: '#5b8fd6', lineWidth: 2.5}});
graphic.push({type: 'rect', shape: {x: 37, y: 298, width: 1110, height: 244}, z: 1,
  style: {fill: 'none', stroke: '#72ac46', lineWidth: 2.5}});
graphic.push({type: 'polygon', shape: {points: [[37, 547], [1140, 547], [1140, 686], [337, 1447], [37, 1447]]}, z: 1,
  style: {fill: 'none', stroke: '#ee7d2f', lineWidth: 2.5}});

if (problems.length) {
  graphic.push({type: 'text', x: 620, y: 1300, z: 200,
    style: {text: problems.join('\n'), fontSize: 14, fill: '#f0f'}});
}

const chart = echarts.init(document.getElementById('c'), null, {renderer: 'canvas', width: 1129, height: 1484});
chart.setOption({animation: false, backgroundColor: '#fff', grid, xAxis, yAxis, series, graphic});
</script></body></html>
